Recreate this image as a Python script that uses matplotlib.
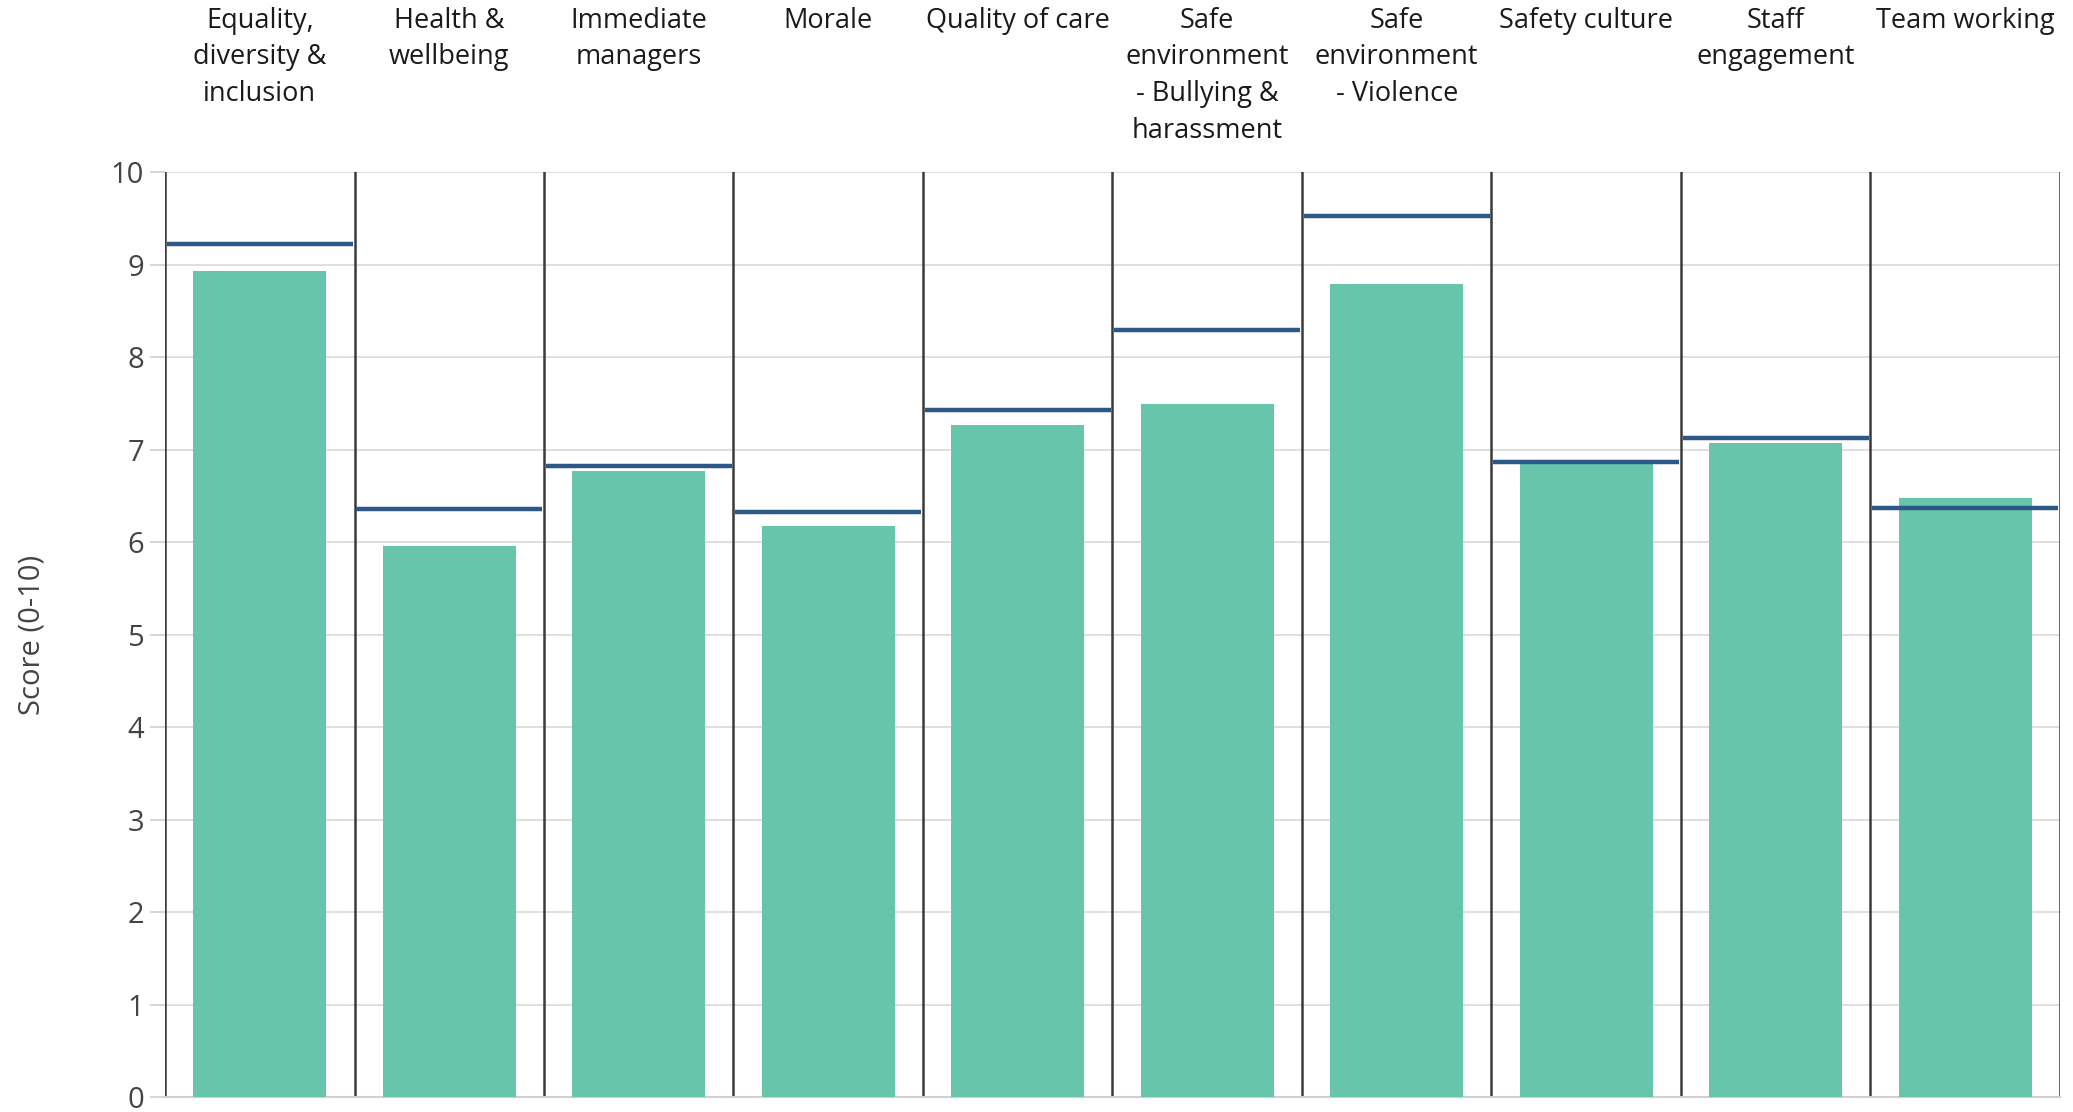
import numpy as np
import matplotlib.pyplot as plt
import matplotlib.transforms as mtransforms

# Categories and scores
categories = ['Equality,\ndiversity &\ninclusion', 'Health &\nwellbeing', 'Immediate\nmanagers',
              'Morale', 'Quality of care', 'Safe\nenvironment\n- Bullying &\nharassment',
              'Safe\nenvironment\n- Violence', 'Safety culture', 'Staff\nengagement', 'Team working']
scores = [8.93, 5.96, 6.77, 6.17, 7.27, 7.49, 8.79, 6.89, 7.07, 6.48]
benchmark = [9.23, 6.36, 6.82, 6.33, 7.43, 8.30, 9.53, 6.87, 7.13, 6.37]
yticks = list(range(0, 11))

bar_color = '#66c5ab'
line_color = '#2b5886'
text_color = '#444444'

plt.rcParams['font.family'] = ['Open Sans', 'DejaVu Sans']

fig = plt.figure(figsize=(20.73, 11.12), dpi=100)
ax = fig.add_axes([0.0796, 0.0135, 0.9141, 0.8315])

x = np.arange(len(categories))
ax.bar(x, scores, width=0.7, color=bar_color, zorder=3)
ax.hlines(benchmark, x - 0.49, x + 0.49, color=line_color, linewidth=3.2, zorder=4)

# separators between categories
for b in np.arange(-0.5, len(categories), 1.0):
    ax.axvline(b, color='#3a3a3a', linewidth=1.8, zorder=2)

ax.set_xlim(-0.5, len(categories) - 0.5)
ax.set_ylim(0, 10)
ax.set_yticks(yticks)
ax.set_yticklabels([str(t) for t in yticks], fontsize=21, color=text_color)
ax.tick_params(axis='y', length=11, color='#d0d0d0', width=1.2, pad=4)
ax.set_xticks([])
ax.grid(axis='y', color='#d9d9d9', linewidth=1.2, zorder=0)
for s in ['top', 'right', 'left']:
    ax.spines[s].set_visible(False)
ax.spines['bottom'].set_color('#d0d0d0')
ax.spines['bottom'].set_linewidth(1.5)

ax.set_ylabel('Score (0-10)', fontsize=21, color=text_color, labelpad=46)

# category labels along the top
trans = mtransforms.blended_transform_factory(ax.transData, fig.transFigure)
for i, lab in enumerate(categories):
    ax.text(i, 0.994, lab, transform=trans, ha='center', va='top', fontsize=19.5,
            color='#1a1a1a', linespacing=1.42)

fig.savefig('out.png', dpi=100)
